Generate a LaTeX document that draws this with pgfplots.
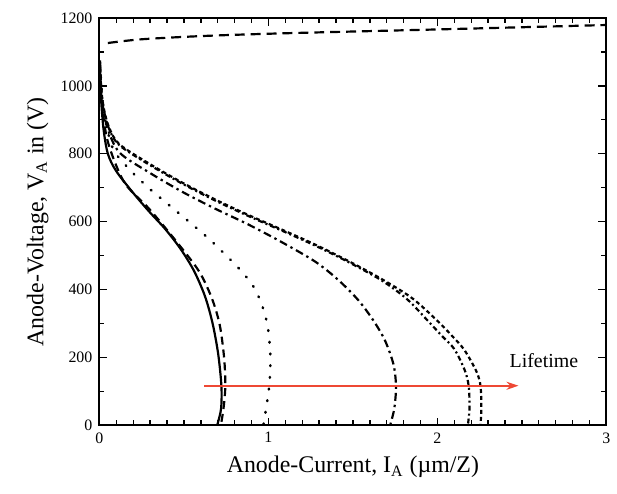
\documentclass[border=0pt]{standalone}
\usepackage{fontspec}
\setmainfont{Liberation Serif}
\usepackage{pgfplots}
\pgfplotsset{compat=1.18}
\usetikzlibrary{arrows.meta}

\definecolor{arrowred}{RGB}{238,72,52}

\begin{document}
\begin{tikzpicture}
\begin{axis}[
  name=main,
  scale only axis,
  width=255pt, height=205pt,
  xmin=0, xmax=3, ymin=0, ymax=1200,
  xtick={0,1,2,3}, minor x tick num=9,
  ytick={0,200,...,1200}, minor y tick num=1,
  tick align=inside, tick pos=both,
  major tick length=4pt, minor tick length=2.5pt,
  axis line style={line width=1pt},
  every tick/.style={black, line width=0.7pt},
  tick label style={font=\fontsize{8}{9}\selectfont},
  /pgf/number format/assume math mode=true,
  /pgf/number format/1000 sep={},
  xlabel={Anode-Current, I\textsubscript{A} (µm/Z)},
  ylabel={Anode-Voltage, V\textsubscript{A} in (V)},
  label style={font=\fontsize{12}{14}\selectfont},
  xlabel style={at={(axis description cs:0.5,-0.102)}, anchor=center},
  ylabel style={at={(axis description cs:-0.122,0.5)}, anchor=center},
  cycle list={{black}},
  every axis plot/.append style={black, line width=1.1pt, no marks, smooth, tension=0.5},
]
% solid
\addplot[solid] coordinates {
  (0.003,1060) (0.01,960) (0.025,870) (0.05,800) (0.098,750) (0.196,687)
  (0.294,630) (0.39,578) (0.48,520) (0.56,455) (0.625,380) (0.67,300)
  (0.703,210) (0.722,116) (0.72,50) (0.70,6) (0.695,0)
};
% long dashes
\addplot[dash pattern=on 4pt off 2.5pt] coordinates {
  (0.003,1070) (0.015,950) (0.05,835) (0.147,716) (0.294,638) (0.45,545)
  (0.588,455) (0.665,375) (0.712,296) (0.738,199) (0.745,116) (0.735,53)
  (0.72,5) (0.715,0)
};
\addplot[dash pattern=on 5pt off 3pt] coordinates {
  (0.05,1126) (0.25,1137) (0.63,1147) (1.12,1155) (2,1166) (3,1179)
};
% dotted
\addplot[dash pattern=on 0.4pt off 5.5pt, line cap=round, line width=1.3pt] coordinates {
  (0.003,1060) (0.025,930) (0.078,818) (0.176,755) (0.294,698) (0.39,658)
  (0.53,600) (0.647,550) (0.745,503) (0.843,453) (0.91,410) (0.95,370)
  (0.98,326) (1.0,277) (1.012,199) (1.005,116) (0.98,30) (0.97,0)
};
% dash-dot
\addplot[dash pattern=on 4pt off 2pt on 1.2pt off 2pt] coordinates {
  (0.003,1060) (0.015,963) (0.045,880) (0.118,804) (0.294,745) (0.49,688)
  (0.686,638) (0.88,592) (1.078,540) (1.275,483) (1.41,430) (1.53,370)
  (1.62,310) (1.69,250) (1.74,180) (1.755,116) (1.745,50) (1.72,0)
};
% short dash-dot
\addplot[dash pattern=on 2.5pt off 1.5pt on 1pt off 1.5pt] coordinates {
  (0.003,1070) (0.012,980) (0.03,920) (0.06,870) (0.118,825) (0.294,768)
  (0.49,712) (0.686,662) (0.88,617) (1.078,574) (1.275,530) (1.47,482)
  (1.667,428) (1.82,372) (1.94,310) (2.03,262) (2.1,225) (2.16,165)
  (2.185,117) (2.19,50) (2.18,0)
};
% short dashes
\addplot[dash pattern=on 2pt off 1.5pt] coordinates {
  (0.003,1075) (0.012,985) (0.03,924) (0.06,874) (0.118,828) (0.294,771)
  (0.49,715) (0.686,665) (0.88,620) (1.078,577) (1.275,533) (1.47,485)
  (1.667,432) (1.85,375) (2.0,308) (2.09,262) (2.16,222) (2.23,160)
  (2.255,117) (2.26,50) (2.255,0)
};
% lifetime arrow
\addplot[arrowred, line width=1pt, smooth=false, -{Stealth[length=6pt,width=4pt]}]
  coordinates {(0.62,117) (2.48,117)};
\node[font=\fontsize{10}{12}\selectfont] at (axis cs:2.63,190) {Lifetime};
\end{axis}
% white margin as in the reference
\path (main.south west) ++(-50pt,-34pt) coordinate (padA);
\path (main.north east) ++(3pt,9pt) coordinate (padB);
\path (padA) -- (padB);
\end{tikzpicture}
\end{document}
